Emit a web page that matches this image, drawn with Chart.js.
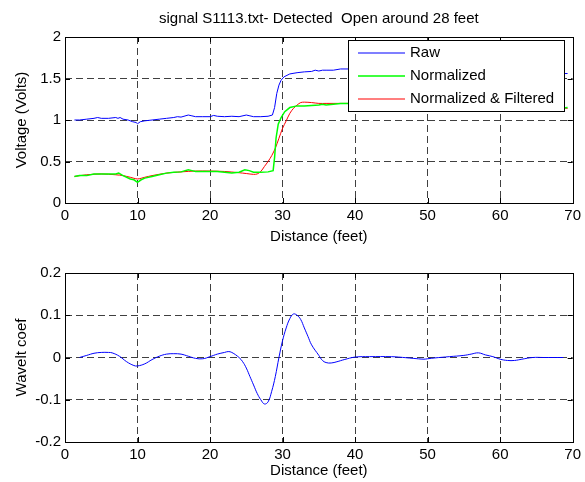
<!DOCTYPE html>
<html>
<head>
<meta charset="utf-8">
<script src="https://cdn.jsdelivr.net/npm/chart.js@4.4.1/dist/chart.umd.min.js"></script>
<style>
  body { margin: 0; background: #fff; width: 585px; height: 482px; overflow: hidden; position: relative; }
  #top, #bottom { position: absolute; left: 0; }
  #top { top: 0; }
  #bottom { top: 250px; }
</style>
</head>
<body>
<div id="top" style="width:585px;height:250px"><canvas id="voltChart"></canvas></div>
<div id="bottom" style="width:585px;height:232px"><canvas id="waveChart"></canvas></div>
<script>
const FONT = 'Liberation Sans, Arial, sans-serif';
const FSIZE = 15;

// top plot - distance (feet) / voltage
const rawDist = [1.3, 2, 3, 4, 4.5, 5, 6, 7, 7.3, 7.6, 8, 8.7, 9.3, 9.8, 10, 10.4, 11, 12, 13, 14, 15, 15.5, 16, 17, 17.5, 18, 19, 20, 20.5, 21, 22, 23, 24, 25, 25.5, 26, 27, 28, 28.6, 28.9, 29.2, 29.5, 29.8, 30.2, 31, 32, 33, 34, 34.5, 35, 35.5, 36, 37, 38, 40, 45, 50, 55, 60, 65, 68, 69.3];
const rawVolts = [1.00, 1.00, 1.01, 1.02, 1.03, 1.02, 1.02, 1.03, 1.02, 1.03, 1.01, 1.00, 0.98, 0.97, 0.955, 0.98, 0.99, 1.00, 1.01, 1.02, 1.03, 1.04, 1.035, 1.06, 1.05, 1.04, 1.04, 1.04, 1.055, 1.045, 1.04, 1.045, 1.04, 1.06, 1.05, 1.04, 1.04, 1.045, 1.06, 1.15, 1.32, 1.42, 1.48, 1.52, 1.555, 1.57, 1.58, 1.585, 1.60, 1.59, 1.60, 1.60, 1.60, 1.615, 1.615, 1.61, 1.60, 1.59, 1.58, 1.57, 1.56, 1.56];

const normDist = [1.3, 2, 3, 4, 5, 6, 7, 7.4, 8, 8.5, 9, 9.5, 10, 10.5, 11, 12, 13, 14, 15, 16, 17, 17.5, 18, 19, 20, 21, 22, 23, 24, 24.8, 25.4, 26, 27, 28, 28.7, 28.9, 29.1, 29.4, 29.8, 30.3, 31, 32, 33, 34, 35, 35.5, 36, 37, 38, 40, 50, 60, 67, 68, 69.3];
const normVolts = [0.32, 0.33, 0.33, 0.35, 0.35, 0.35, 0.35, 0.36, 0.33, 0.31, 0.29, 0.28, 0.25, 0.28, 0.30, 0.32, 0.34, 0.36, 0.37, 0.375, 0.40, 0.39, 0.38, 0.38, 0.38, 0.38, 0.37, 0.36, 0.37, 0.40, 0.39, 0.37, 0.37, 0.375, 0.39, 0.55, 0.78, 0.95, 1.03, 1.10, 1.15, 1.17, 1.17, 1.175, 1.18, 1.19, 1.18, 1.19, 1.20, 1.20, 1.20, 1.18, 1.16, 1.14, 1.15];

const filtDist = [1.3, 3, 5, 7, 8, 9, 10, 11, 12, 14, 16, 18, 20, 22, 24, 25, 26, 26.5, 27, 27.5, 28, 28.5, 29, 29.5, 30, 30.5, 31, 31.5, 32, 32.5, 33, 34, 35, 36, 40, 50, 60, 68, 69.3];
const filtVolts = [0.32, 0.34, 0.35, 0.34, 0.33, 0.31, 0.29, 0.31, 0.33, 0.36, 0.375, 0.385, 0.385, 0.38, 0.365, 0.355, 0.345, 0.35, 0.38, 0.44, 0.50, 0.57, 0.66, 0.78, 0.90, 0.99, 1.08, 1.14, 1.18, 1.21, 1.215, 1.21, 1.20, 1.20, 1.20, 1.20, 1.18, 1.15, 1.14];

// bottom plot - wavelet coefficient
const waveDist = [2, 3, 4, 5, 6, 6.5, 7.5, 8.5, 9.5, 10, 11, 12, 13, 14, 15, 16, 17, 18, 19, 20, 21, 22, 22.5, 23, 24, 24.5, 25, 25.5, 26, 26.5, 27, 27.5, 28, 28.5, 29, 29.5, 30, 30.5, 31, 31.5, 32, 32.5, 33, 33.5, 34, 35, 35.5, 36, 36.7, 37.5, 38.5, 40, 42, 45, 46, 48, 49.5, 50, 51, 53, 55, 56, 57, 58, 59, 60, 61, 62, 63, 64.5, 66, 68.7];
const waveCoef = [0, 0.005, 0.01, 0.012, 0.012, 0.011, 0.003, -0.01, -0.019, -0.02, -0.015, -0.005, 0.003, 0.008, 0.009, 0.008, 0.003, -0.002, -0.003, 0.002, 0.008, 0.012, 0.014, 0.012, 0.0, -0.01, -0.025, -0.045, -0.065, -0.085, -0.1, -0.11, -0.105, -0.08, -0.045, 0, 0.04, 0.07, 0.092, 0.103, 0.1, 0.09, 0.07, 0.05, 0.03, 0.005, -0.007, -0.012, -0.013, -0.01, -0.005, 0.001, 0.002, 0.002, 0.001, -0.002, -0.004, -0.003, -0.001, 0.002, 0.005, 0.008, 0.011, 0.006, 0.002, -0.004, -0.007, -0.007, -0.004, 0, 0, 0];

const xTicks = [0, 10, 20, 30, 40, 50, 60, 70];

const pts = (xs, ys) => xs.map((x, i) => ({ x: x, y: ys[i] }));

// MATLAB-like box, inward tick marks, title and in-plot legend
const matlabBox = {
  id: 'matlabBox',
  afterDatasetsDraw(chart, args, opts) {
    const { ctx, chartArea: a, scales } = chart;
    ctx.save();
    ctx.strokeStyle = '#000';
    ctx.lineWidth = 1;
    ctx.beginPath();
    scales.x.ticks.forEach(t => {
      const px = Math.round(scales.x.getPixelForValue(t.value)) + 0.5;
      ctx.moveTo(px, a.bottom); ctx.lineTo(px, a.bottom - 5);
      ctx.moveTo(px, a.top); ctx.lineTo(px, a.top + 5);
    });
    scales.y.ticks.forEach(t => {
      const py = Math.round(scales.y.getPixelForValue(t.value)) + 0.5;
      ctx.moveTo(a.left, py); ctx.lineTo(a.left + 5, py);
      ctx.moveTo(a.right, py); ctx.lineTo(a.right - 5, py);
    });
    ctx.stroke();
    ctx.strokeRect(Math.round(a.left) + 0.5, Math.round(a.top) + 0.5, Math.round(a.right - a.left), Math.round(a.bottom - a.top));

    if (opts.title) {
      ctx.fillStyle = '#000';
      ctx.font = FSIZE + 'px ' + FONT;
      ctx.textAlign = 'center';
      ctx.textBaseline = 'middle';
      ctx.fillText(opts.title, (a.left + a.right) / 2, 19);
    }

    if (opts.legend) {
      const bx = 348.5, by = 40.5, bw = 216, bh = 71;
      ctx.fillStyle = '#fff';
      ctx.fillRect(bx, by, bw, bh);
      ctx.strokeStyle = '#000';
      ctx.lineWidth = 1;
      ctx.strokeRect(bx, by, bw, bh);
      ctx.font = FSIZE + 'px ' + FONT;
      ctx.textAlign = 'left';
      ctx.textBaseline = 'middle';
      chart.data.datasets.forEach((ds, i) => {
        const y = 53 + i * 23;
        const o = chart.getDatasetMeta(i).dataset.options;
        ctx.fillStyle = o.borderColor;
        ctx.fillRect(358, y - o.borderWidth / 2, 47, o.borderWidth);
        ctx.fillStyle = '#000';
        ctx.fillText(ds.label, 410, y);
      });
    }
    ctx.restore();
  }
};

function axes(yMin, yMax, yStep, yTitle, xHeight, xTitlePad, yTitlePad) {
  const gridColor = (lo, hi) => c => (c.tick && (Math.abs(c.tick.value - lo) < 1e-9 || Math.abs(c.tick.value - hi) < 1e-9)) ? 'rgba(0,0,0,0)' : '#404040';
  const font = { family: FONT, size: FSIZE };
  return {
    x: {
      type: 'linear', min: 0, max: 70,
      afterBuildTicks: s => { s.ticks = xTicks.map(v => ({ value: v })); },
      afterFit: s => { s.height = xHeight; },
      grid: { color: gridColor(0, 70), drawTicks: false, lineWidth: 1 },
      border: { display: false, dash: [7, 4] },
      ticks: { color: '#000', font: font, padding: 4, maxRotation: 0 },
      title: { display: true, text: 'Distance (feet)', color: '#000', font: font, padding: { top: 0, bottom: xTitlePad } }
    },
    y: {
      type: 'linear', min: yMin, max: yMax,
      afterFit: s => { s.width = 65; },
      grid: { color: gridColor(yMin, yMax), drawTicks: false, lineWidth: 1 },
      border: { display: false, dash: [7, 4] },
      ticks: { stepSize: yStep, color: '#000', font: font, padding: 4,
               callback: v => String(+v.toFixed(2)) },
      title: { display: true, text: yTitle, color: '#000', font: font, padding: { top: yTitlePad, bottom: 0 } }
    }
  };
}

new Chart(document.getElementById('voltChart'), {
  type: 'line',
  data: {
    datasets: [
      { label: 'Raw', data: pts(rawDist, rawVolts), borderColor: '#0000ff', borderWidth: 1, pointRadius: 0, tension: 0 },
      { label: 'Normalized', data: pts(normDist, normVolts), borderColor: '#00ff00', borderWidth: 1.5, pointRadius: 0, tension: 0 },
      { label: 'Normalized & Filtered', data: pts(filtDist, filtVolts), borderColor: '#ff0000', borderWidth: 1, pointRadius: 0, tension: 0.3 }
    ]
  },
  options: {
    responsive: true, maintainAspectRatio: false, animation: false,
    layout: { padding: { top: 37, right: 10, left: 0, bottom: 0 } },
    scales: axes(0, 2, 0.5, 'Voltage (Volts)', 47, 4, 13),
    plugins: {
      legend: { display: false }, tooltip: { enabled: false },
      matlabBox: { title: 'signal S1113.txt- Detected  Open around 28 feet', legend: true }
    }
  },
  plugins: [matlabBox]
});

new Chart(document.getElementById('waveChart'), {
  type: 'line',
  data: {
    datasets: [
      { label: 'Wavelet', data: pts(waveDist, waveCoef), borderColor: '#0000ff', borderWidth: 1, pointRadius: 0, tension: 0.4 }
    ]
  },
  options: {
    responsive: true, maintainAspectRatio: false, animation: false,
    layout: { padding: { top: 23, right: 10, left: 0, bottom: 0 } },
    scales: axes(-0.2, 0.2, 0.1, 'Wavelt coef', 40, 2, 13),
    plugins: {
      legend: { display: false }, tooltip: { enabled: false },
      matlabBox: { title: null, legend: false }
    }
  },
  plugins: [matlabBox]
});
</script>
</body>
</html>
